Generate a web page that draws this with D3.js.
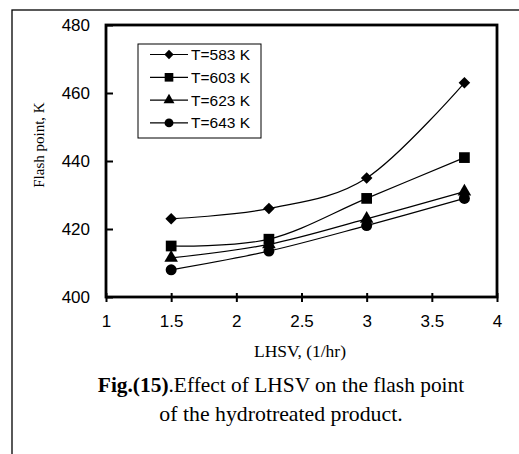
<!DOCTYPE html>
<html>
<head>
<meta charset="utf-8">
<script src="https://cdnjs.cloudflare.com/ajax/libs/d3/7.8.5/d3.min.js"></script>
<style>
  body { margin: 0; background: #fff; }
  svg { display: block; }
  .tick text { font-family: Arial, "Liberation Sans", sans-serif; font-size: 17px; fill: #000; }
</style>
</head>
<body>
<div id="chart"></div>
<script>
// Datos
const lhsv = [1.5, 2.25, 3, 3.75];
const seriesNames = ['T=583 K', 'T=603 K', 'T=623 K', 'T=643 K'];
const t583 = [423, 426, 435, 463];
const t603 = [415, 417, 429, 441];
const t623 = [411.5, 415.5, 423, 431];
const t643 = [408, 413.5, 421, 429];
const xTicks = [1, 1.5, 2, 2.5, 3, 3.5, 4];
const yTicks = [400, 420, 440, 460, 480];

const allSeries = [t583, t603, t623, t643];
const symbols = [d3.symbolDiamond2, d3.symbolSquare, d3.symbolTriangle, d3.symbolCircle];
const symbolSizes = [85, 115, 80, 95];

let W = 519, H = 454;
let margin = {top: 25, right: 22, bottom: 157, left: 106},
    width = W - margin.left - margin.right,
    height = H - margin.top - margin.bottom;

let root = d3.select('#chart').append('svg')
    .attr('width', W)
    .attr('height', H);

// Marco exterior
root.append('rect')
    .attr('x', 12).attr('y', 10)
    .attr('width', 520).attr('height', 460)
    .attr('fill', 'none').attr('stroke', '#000').attr('stroke-width', 1.3);

let svg = root.append('g')
    .attr('transform', 'translate(' + margin.left + ',' + margin.top + ')');

let x = d3.scaleLinear().domain([1, 4]).range([0, width]);
let y = d3.scaleLinear().domain([400, 480]).range([height, 0]);

// Ejes
let xAxis = svg.append('g')
    .attr('transform', 'translate(0,' + height + ')')
    .call(d3.axisBottom(x).tickValues(xTicks).tickSize(3).tickPadding(15).tickFormat(d3.format('')));
xAxis.select('.domain').remove();
xAxis.selectAll('.tick line').attr('y1', -4).attr('y2', 5).attr('stroke-width', 2);

let yAxis = svg.append('g')
    .call(d3.axisLeft(y).tickValues(yTicks).tickSize(0).tickPadding(16));
yAxis.select('.domain').remove();
yAxis.selectAll('.tick line').attr('x1', 0).attr('x2', 7).attr('stroke-width', 2);

// Área de trazado
svg.append('rect')
    .attr('width', width).attr('height', height)
    .attr('fill', 'none').attr('stroke', '#000').attr('stroke-width', 2.8);

// Líneas
let line = d3.line()
    .x(function(d, i) { return x(lhsv[i]); })
    .y(function(d) { return y(d); })
    .curve(d3.curveCatmullRom.alpha(0));

allSeries.forEach(function(s, k) {
    svg.append('path')
        .datum(s)
        .attr('d', line)
        .attr('fill', 'none')
        .attr('stroke', '#000')
        .attr('stroke-width', 1.2);

    svg.selectAll('.m' + k)
        .data(s)
        .enter()
        .append('path')
        .attr('class', 'm' + k)
        .attr('transform', function(d, i) { return 'translate(' + x(lhsv[i]) + ',' + y(d) + ')'; })
        .attr('d', d3.symbol().type(symbols[k]).size(symbolSizes[k]))
        .attr('fill', '#000');
});

// Leyenda
let legend = root.append('g').attr('transform', 'translate(138,44)');
legend.append('rect')
    .attr('width', 123).attr('height', 94)
    .attr('fill', '#fff').attr('stroke', '#000').attr('stroke-width', 1);

seriesNames.forEach(function(name, k) {
    let yy = 10.5 + k * 22.8;
    legend.append('line')
        .attr('x1', 12).attr('x2', 50)
        .attr('y1', yy).attr('y2', yy)
        .attr('stroke', '#000').attr('stroke-width', 1.2);
    legend.append('path')
        .attr('transform', 'translate(31,' + yy + ')')
        .attr('d', d3.symbol().type(symbols[k]).size(symbolSizes[k] * 0.65))
        .attr('fill', '#000');
    legend.append('text')
        .attr('x', 53).attr('y', yy + 5.5)
        .attr('font-family', 'Arial, "Liberation Sans", sans-serif')
        .attr('font-size', 15.5)
        .text(name);
});

// Títulos de ejes
root.append('text')
    .attr('x', 300).attr('y', 357)
    .attr('text-anchor', 'middle')
    .attr('font-family', '"Liberation Serif", "Times New Roman", serif')
    .attr('font-size', 17.5)
    .text('LHSV, (1/hr)');

root.append('text')
    .attr('transform', 'translate(44,145) rotate(-90)')
    .attr('text-anchor', 'middle')
    .attr('font-family', '"Liberation Serif", "Times New Roman", serif')
    .attr('font-size', 15)
    .text('Flash point, K');

// Pie de figura
let cap1 = root.append('text')
    .attr('x', 281).attr('y', 392)
    .attr('text-anchor', 'middle')
    .attr('font-family', '"Liberation Serif", "Times New Roman", serif')
    .attr('font-size', 21.4);
cap1.append('tspan').attr('font-weight', 'bold').text('Fig.(15)');
cap1.append('tspan').text('.Effect of LHSV on the flash point');

root.append('text')
    .attr('x', 281).attr('y', 421)
    .attr('text-anchor', 'middle')
    .attr('font-family', '"Liberation Serif", "Times New Roman", serif')
    .attr('font-size', 21.8)
    .text('of the hydrotreated product.');
</script>
</body>
</html>
